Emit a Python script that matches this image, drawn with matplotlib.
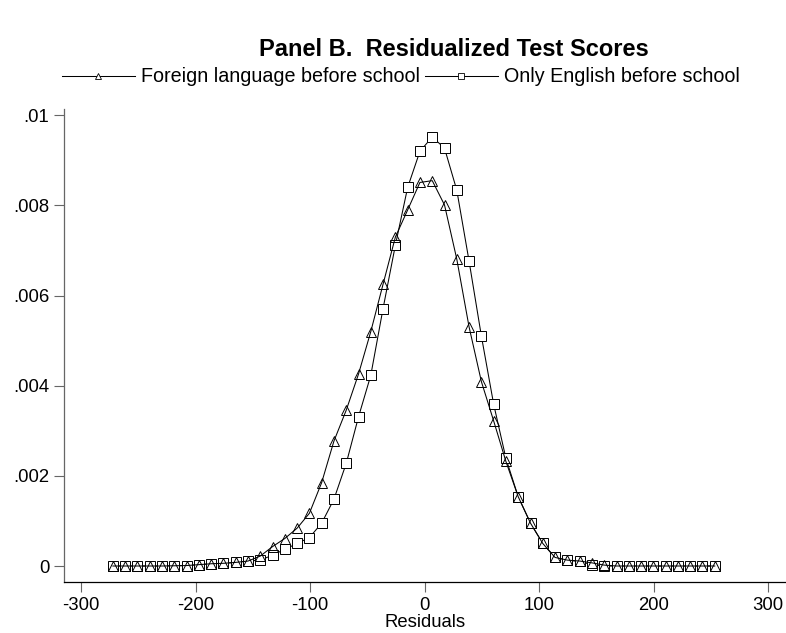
import matplotlib
matplotlib.use("Agg")
import matplotlib.pyplot as plt
from matplotlib.lines import Line2D

plt.rcParams['font.family'] = ['Liberation Sans', 'DejaVu Sans']

# Evaluation grid (residuals)
residuals = [-272.3, -261.6, -250.9, -240.2, -229.4, -218.7, -208.0, -197.2, -186.5, -175.8,
             -165.1, -154.3, -143.6, -132.9, -122.2, -111.4, -100.7, -90.0, -79.3, -68.5,
             -57.8, -47.1, -36.4, -25.6, -14.9, -4.2, 6.6, 17.3, 28.0, 38.7,
             49.5, 60.2, 70.9, 81.6, 92.4, 103.1, 113.8, 124.6, 135.3, 146.0,
             156.7, 167.5, 178.2, 188.9, 199.6, 210.4, 221.1, 231.8, 242.5, 253.3]

foreign_density = [0.0, 0.0, 0.0, 0.0, 0.0, 0.000005, 0.00001, 0.00003, 0.00005, 0.00006,
                   0.00008, 0.00011, 0.00022, 0.00043, 0.00061, 0.00084, 0.00117, 0.00185, 0.00277, 0.00346,
                   0.00426, 0.00520, 0.00625, 0.00730, 0.00790, 0.00851, 0.00855, 0.00801, 0.00681, 0.00531,
                   0.00409, 0.00322, 0.00232, 0.00154, 0.00095, 0.00050, 0.00019, 0.00013, 0.00011, 0.00007,
                   0.00002, 0.0, 0.0, 0.0, 0.0, 0.0, 0.0, 0.0, 0.0, 0.0]

english_density = [0.0, 0.0, 0.0, 0.0, 0.0, 0.000005, 0.00001, 0.00003, 0.00005, 0.00006,
                   0.00008, 0.00011, 0.00013, 0.00024, 0.00037, 0.00050, 0.00063, 0.00095, 0.00148, 0.00228,
                   0.00331, 0.00423, 0.00571, 0.00712, 0.00840, 0.00920, 0.00952, 0.00927, 0.00834, 0.00677,
                   0.00510, 0.00359, 0.00239, 0.00154, 0.00095, 0.00050, 0.00019, 0.00013, 0.00010, 0.00003,
                   0.0, 0.0, 0.0, 0.0, 0.0, 0.0, 0.0, 0.0, 0.0, 0.0]

labels = ["Foreign language before school", "Only English before school"]
xticks = [-300, -200, -100, 0, 100, 200, 300]
xtick_labels = ["-300", "-200", "-100", "0", "100", "200", "300"]
yticks = [0, 0.002, 0.004, 0.006, 0.008, 0.01]
ytick_labels = ["0", ".002", ".004", ".006", ".008", ".01"]

W, H = 786, 633
fig = plt.figure(figsize=(W / 100, H / 100), dpi=100)
ax = fig.add_axes([64 / W, 1 - 582 / H, 1 - 64 / W, (582 - 109) / H])

lw = 0.75
ax.plot(residuals, english_density, color='black', lw=lw, marker='s', markersize=6.5,
        markerfacecolor='white', markeredgecolor='black', markeredgewidth=0.7, zorder=3)
ax.plot(residuals, foreign_density, color='black', lw=lw, marker='^', markersize=6.5,
        markerfacecolor='none', markeredgecolor='black', markeredgewidth=0.7, zorder=4)

ax.set_xlim(-315, 315.5)
ax.set_ylim(-0.000355, 0.01014)
ax.set_xticks(xticks)
ax.set_xticklabels(xtick_labels)
ax.set_yticks(yticks)
ax.set_yticklabels(ytick_labels)

for s in ['top', 'right']:
    ax.spines[s].set_visible(False)
ax.spines['left'].set_color('#666666')
ax.spines['left'].set_linewidth(0.9)
ax.spines['bottom'].set_color('black')
ax.spines['bottom'].set_linewidth(0.9)
ax.tick_params(axis='both', direction='out', length=7.5, width=0.8, color='#666666',
               labelsize=13.3, pad=3.5)
ax.tick_params(axis='y', pad=3)
ax.set_xlabel("Residuals", fontsize=13.3, labelpad=0)

fig.text(454 / W, 1 - 49 / H, "Panel B.  Residualized Test Scores", ha='center', va='center',
         fontsize=17, fontweight='bold')

handles = [
    Line2D([], [], color='black', lw=lw, marker='^', markersize=4.5, markerfacecolor='white',
           markeredgecolor='black', markeredgewidth=0.6),
    Line2D([], [], color='black', lw=lw, marker='s', markersize=4.5, markerfacecolor='white',
           markeredgecolor='black', markeredgewidth=0.6),
]
fig.legend(handles, labels, ncol=2, loc='center left', bbox_to_anchor=(62 / W, 1 - 77 / H),
           frameon=False, fontsize=14.2, handlelength=3.7, handletextpad=0.3, columnspacing=0.25,
           borderpad=0, borderaxespad=0, numpoints=1)

fig.savefig("out.png", dpi=100)
